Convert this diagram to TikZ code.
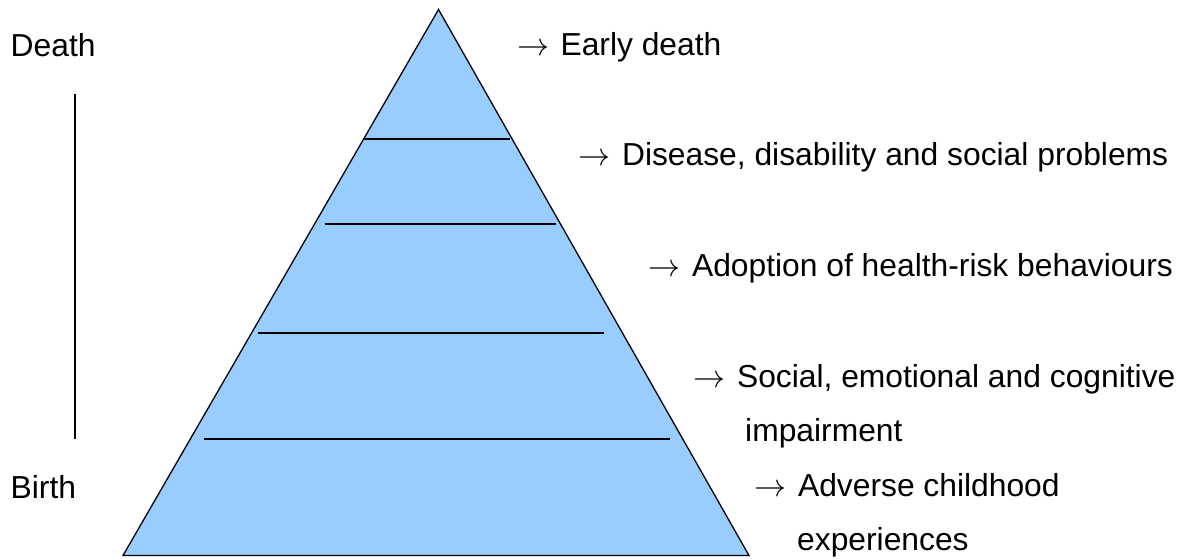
\documentclass[tikz,border=0pt]{standalone}
\usepackage{graphicx}
\usepackage{fontspec}
\setmainfont{Liberation Sans}
\newcommand{\rarr}{\scalebox{3.2}{\fontsize{10}{12}\selectfont$\rightarrow$}\hspace{2.5pt}}
\begin{document}
\begin{tikzpicture}[x=1pt,y=-1pt,
  lbl/.style={anchor=base west,inner sep=0pt,font=\fontsize{31.8}{38}\selectfont},
  tri/.style={draw=black,line width=1.3pt,fill=pyrblue,line join=miter},
  band/.style={draw=black,line width=2pt},
  timeline/.style={draw=black,line width=1.6pt}]
\definecolor{pyrblue}{HTML}{99CCFF}
\useasboundingbox (0,0) rectangle (1182,558);
% pyramid
\coordinate (apex) at (438.5,9.5);
\coordinate (bl) at (123,555.5);
\coordinate (br) at (749,555.5);
\path[tri] (apex) -- (br) -- (bl) -- cycle;
\coordinate (l1a) at (362.5,138.5); \coordinate (l1b) at (509.5,138.5);
\coordinate (l2a) at (324.5,223.5); \coordinate (l2b) at (555.5,223.5);
\coordinate (l3a) at (257.5,332.5); \coordinate (l3b) at (603.5,332.5);
\coordinate (l4a) at (204,438.5); \coordinate (l4b) at (669.5,438.5);
\draw[band] (l1a) -- (l1b);
\draw[band] (l2a) -- (l2b);
\draw[band] (l3a) -- (l3b);
\draw[band] (l4a) -- (l4b);
% timeline
\coordinate (tltop) at (75,94);
\coordinate (tlbot) at (75,438.5);
\draw[timeline] (tltop) -- (tlbot);
\node[lbl] (death) at (10.5,56.5) {Death};
\node[lbl] (birth) at (10.5,498) {Birth};
% labels
\node[lbl] (early) at (517,55) {\rarr{} Early death};
\node[lbl] (disease) at (578.5,165) {\rarr{} Disease, disability and social problems};
\node[lbl] (adoption) at (648.5,276) {\rarr{} Adoption of health-risk behaviours};
\node[lbl] (social) at (693.5,387) {\rarr{} Social, emotional and cognitive};
\node[lbl] (social2) at (745,441.5) {impairment};
\node[lbl] (adverse) at (754.5,496.5) {\rarr{} Adverse childhood};
\node[lbl] (adverse2) at (797,550.5) {experiences};
\end{tikzpicture}
\end{document}
